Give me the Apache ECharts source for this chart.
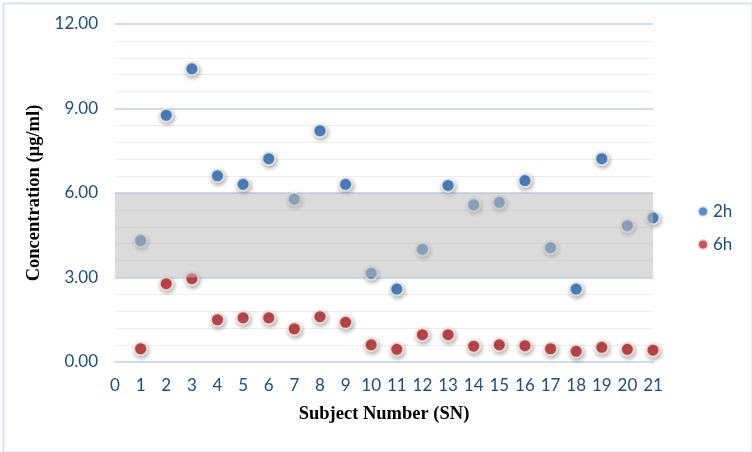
<!DOCTYPE html>
<html>
<head>
<meta charset="utf-8">
<script src="https://cdn.jsdelivr.net/npm/echarts@6/dist/echarts.min.js"></script>
<style>
html,body{margin:0;padding:0;background:#fff;}
#c{width:752px;height:452px;}
</style>
</head>
<body>
<div id="c"></div>
<script>
const subjects = [1,2,3,4,5,6,7,8,9,10,11,12,13,14,15,16,17,18,19,20,21];
const conc2h = [4.31,8.76,10.41,6.61,6.31,7.22,5.78,8.21,6.31,3.15,2.59,4.00,6.27,5.58,5.67,6.44,4.06,2.59,7.22,4.84,5.12];
const conc6h = [0.47,2.78,2.96,1.50,1.57,1.57,1.18,1.61,1.41,0.61,0.45,0.97,0.97,0.56,0.61,0.58,0.47,0.38,0.52,0.45,0.42];
const bandRange = [3, 6];
const seriesNames = ['2h', '6h'];

const chart = echarts.init(document.getElementById('c'));
const pointStyle = (color) => ({
  color: color,
  borderColor: '#f3efe4',
  borderWidth: 2,
  shadowColor: 'rgba(0,0,0,0.35)',
  shadowBlur: 4,
  shadowOffsetX: 1,
  shadowOffsetY: 2
});
chart.setOption({
  animation: false,
  backgroundColor: '#ffffff',
  graphic: [{
    type: 'rect', left: 1, top: 1, z: 100, silent: true,
    shape: {width: 749, height: 449},
    style: {fill: 'none', stroke: '#d5e3f4', lineWidth: 2}
  }],
  grid: {left: 115, right: 99, top: 24, bottom: 90},
  legend: {
    orient: 'vertical', left: 692, top: 198, itemGap: 16,
    icon: 'circle', itemWidth: 10, itemHeight: 10,
    textStyle: {fontFamily: 'Lato', fontSize: 17, color: '#1f4e79'},
    data: seriesNames
  },
  xAxis: {
    type: 'value', min: 0, max: 21, interval: 1,
    name: 'Subject Number (SN)', nameLocation: 'middle', nameGap: 43,
    nameTextStyle: {fontFamily: 'Liberation Serif', fontWeight: 'bold', fontSize: 18.5, color: '#000'},
    axisLine: {show: true, lineStyle: {color: '#cddcf0', width: 2}},
    axisTick: {show: false},
    splitLine: {show: false},
    axisLabel: {fontFamily: 'Lato', fontSize: 17, color: '#1f4e79', margin: 15}
  },
  yAxis: {
    type: 'value', min: 0, max: 12, interval: 3,
    name: 'Concentration (µg/ml)', nameLocation: 'middle', nameGap: 70,
    nameTextStyle: {fontFamily: 'Liberation Serif', fontWeight: 'bold', fontSize: 18.5, color: '#000'},
    axisLine: {show: false},
    axisTick: {show: false},
    axisLabel: {fontFamily: 'Lato', fontSize: 17, color: '#1f4e79', margin: 17,
      formatter: v => v.toFixed(2)},
    splitLine: {show: true, lineStyle: {color: '#cddcf0', width: 2}},
    minorTick: {show: false, splitNumber: 5},
    minorSplitLine: {show: true, lineStyle: {color: '#ebeef2', width: 1}}
  },
  series: [
    {
      name: seriesNames[0], type: 'scatter', symbolSize: 13, z: 2,
      itemStyle: pointStyle('#2e72c2'),
      data: subjects.map((s, i) => [s, conc2h[i]])
    },
    {
      name: seriesNames[1], type: 'scatter', symbolSize: 13, z: 2,
      itemStyle: pointStyle('#c1272d'),
      data: subjects.map((s, i) => [s, conc6h[i]])
    },
    {
      name: 'band', type: 'scatter', data: [], z: 5, silent: true,
      markArea: {
        silent: true,
        z: 5,
        itemStyle: {color: 'rgba(190,190,190,0.55)'},
        data: [[{yAxis: bandRange[0]}, {yAxis: bandRange[1]}]]
      }
    }
  ]
});
</script>
</body>
</html>
